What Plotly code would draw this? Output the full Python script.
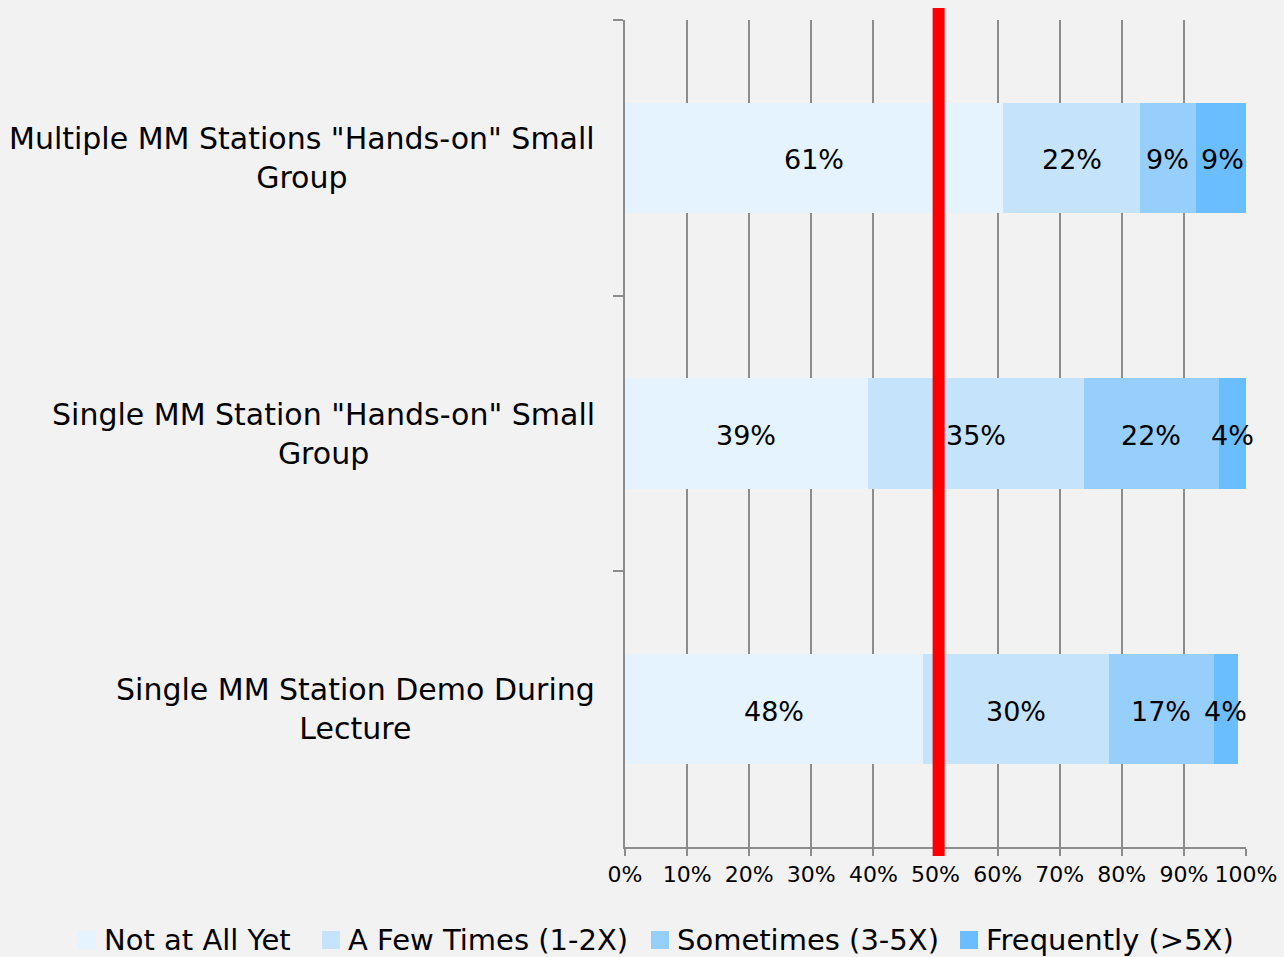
import plotly.graph_objects as go

categories = [
    'Multiple MM Stations "Hands-on" Small Group',
    'Single MM Station "Hands-on" Small Group',
    'Single MM Station Demo During Lecture',
]
series_names = ["Not at All Yet", "A Few Times (1-2X)", "Sometimes (3-5X)", "Frequently (>5X)"]
not_at_all = [60.9, 39.1, 48.0]
few_times = [22.0, 34.8, 29.9]
sometimes = [9.0, 21.7, 16.9]
frequently = [8.6, 4.4, 3.9]
series_values = [not_at_all, few_times, sometimes, frequently]
colors = ["#E5F3FE", "#C5E4FC", "#97CFFC", "#6BBEFE"]
x_ticks = list(range(0, 101, 10))
reference_line = 50.5

FONT = "DejaVu Sans"
GRAY = "#8C8C8C"
W, H = 1284, 957
L, R, T, B = 625, 38, 20, 110
PW, PH = W - L - R, H - T - B


def px_to_paper_x(px):
    return (px - L) / PW


def px_to_paper_y(py):
    return (H - B - py) / PH


fig = go.Figure()
annotations = []
cum = [0.0] * len(categories)
for name, vals, col in zip(series_names, series_values, colors):
    fig.add_trace(go.Bar(
        y=categories, x=vals, name=name, orientation="h",
        marker=dict(color=col, line=dict(width=0)),
        showlegend=False, cliponaxis=False,
    ))
    for i, (c, v) in enumerate(zip(categories, vals)):
        annotations.append(dict(
            x=cum[i] + v / 2, xref="x", y=c, yref="y", yshift=-2,
            xanchor="center", yanchor="middle", text=f"{v:.0f}%", showarrow=False,
            font=dict(family=FONT, size=27, color="#000000"),
        ))
        cum[i] += v

for c in categories:
    first, last = c.rsplit(" ", 1)
    annotations.append(dict(
        x=0, xref="paper", y=c, yref="y", xanchor="right", yanchor="middle",
        xshift=-28, text=f"{first}<br>{last}", align="center", showarrow=False,
        font=dict(family=FONT, size=30, color="#000000"),
    ))

shapes = [dict(type="line", x0=reference_line, x1=reference_line, xref="x",
               y0=px_to_paper_y(856), y1=px_to_paper_y(8), yref="paper",
               line=dict(color="#FF0000", width=12), layer="above")]

# custom legend (layout positions in pixels)
legend_marker_px = [78, 322, 651, 960]
legend_y_px = 940
for name, col, mx in zip(series_names, colors, legend_marker_px):
    shapes.append(dict(type="rect", xref="paper", yref="paper",
                       x0=px_to_paper_x(mx), x1=px_to_paper_x(mx + 18),
                       y0=px_to_paper_y(legend_y_px + 9), y1=px_to_paper_y(legend_y_px - 9),
                       fillcolor=col, line=dict(width=0)))
    annotations.append(dict(x=px_to_paper_x(mx + 24), xref="paper",
                            y=px_to_paper_y(legend_y_px), yref="paper",
                            xanchor="left", yanchor="middle", text=name, showarrow=False,
                            font=dict(family=FONT, size=29, color="#000000")))

fig.update_layout(
    barmode="stack",
    bargap=0.6,
    width=W, height=H,
    margin=dict(l=L, r=R, t=T, b=B, autoexpand=False),
    paper_bgcolor="#F2F2F2",
    plot_bgcolor="rgba(0,0,0,0)",
    annotations=annotations,
    shapes=shapes,
    showlegend=False,
    font=dict(family=FONT, color="#000000"),
)
fig.update_xaxes(
    range=[0, 100], tickvals=x_ticks, ticktext=[f"{t}%" for t in x_ticks],
    showgrid=True, gridcolor=GRAY, gridwidth=2,
    showline=True, linecolor=GRAY, linewidth=2,
    ticks="outside", ticklen=7, tickwidth=2, tickcolor=GRAY,
    tickfont=dict(family=FONT, size=22, color="#000000"),
    zeroline=False, fixedrange=True, automargin=False,
)
fig.update_yaxes(
    autorange="reversed", showticklabels=False,
    showline=True, linecolor=GRAY, linewidth=2,
    ticks="outside", tickson="boundaries", ticklen=10, tickwidth=2, tickcolor=GRAY,
    showgrid=False, zeroline=False, automargin=False,
)

fig.write_html("out.html")
